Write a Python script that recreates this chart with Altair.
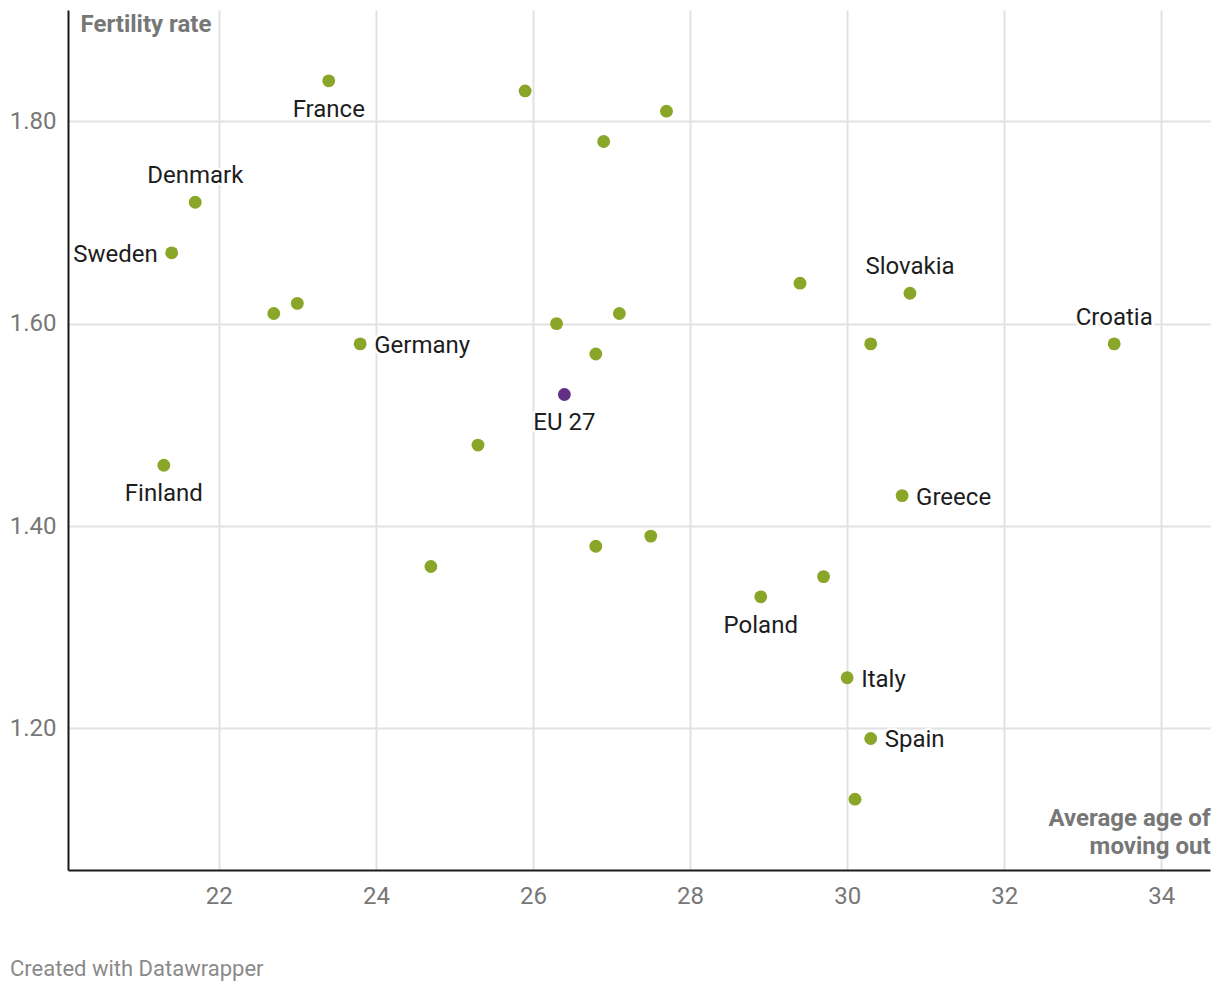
import altair as alt
import pandas as pd

# Data
countries = ["France", "C2", "C3", "C4", "Denmark", "Sweden", "C7", "C8", "Germany",
             "C10", "C11", "C12", "EU 27", "C14", "Finland", "C16", "Slovakia", "C18",
             "Croatia", "Greece", "C21", "C22", "C23", "C24", "Poland", "Italy", "Spain", "C28"]
age_moving_out = [23.4, 25.9, 27.7, 26.9, 21.7, 21.4, 22.7, 23.0, 23.8,
                  26.3, 27.1, 26.8, 26.4, 25.3, 21.3, 29.4, 30.8, 30.3,
                  33.4, 30.7, 24.7, 26.8, 27.5, 29.7, 28.9, 30.0, 30.3, 30.1]
fertility_rate = [1.84, 1.83, 1.81, 1.78, 1.72, 1.67, 1.61, 1.62, 1.58,
                  1.60, 1.61, 1.57, 1.53, 1.48, 1.46, 1.64, 1.63, 1.58,
                  1.58, 1.43, 1.36, 1.38, 1.39, 1.35, 1.33, 1.25, 1.19, 1.13]
group = ["EU" if c == "EU 27" else "Country" for c in countries]
shown_labels = ["France", "Denmark", "Sweden", "Germany", "EU 27", "Finland", "Slovakia",
                "Croatia", "Greece", "Poland", "Italy", "Spain"]

x_ticks = [22, 24, 26, 28, 30, 32, 34]
y_ticks = [1.2, 1.4, 1.6, 1.8]

df = pd.DataFrame({"country": countries, "age": age_moving_out,
                   "fert": fertility_rate, "group": group})
df["label"] = [c if c in shown_labels else "" for c in countries]

FONT = "Roboto"
FS = 24
W, H = 1142, 860

xscale = alt.Scale(domain=[20.08, 34.62], nice=False, zero=False)
yscale = alt.Scale(domain=[1.06, 1.91], nice=False, zero=False)

xaxis = alt.Axis(values=x_ticks, format="d", grid=True, gridColor="#e2e2e2", gridWidth=2,
                 domainColor="#1a1a1a", domainWidth=2, ticks=False,
                 labelFont=FONT, labelFontSize=FS, labelColor="#777777", labelPadding=14,
                 title=["Average age of", "moving out"], titleFont=FONT, titleFontSize=FS,
                 titleFontWeight="bold", titleColor="#777777", titleAlign="right",
                 titleAnchor="end", titleX=W, titleY=-45, titleBaseline="alphabetic",
                 titleLineHeight=28)
yaxis = alt.Axis(values=y_ticks, format=".2f", grid=True, gridColor="#e2e2e2", gridWidth=2,
                 domainColor="#1a1a1a", domainWidth=2, ticks=False,
                 labelFont=FONT, labelFontSize=FS, labelColor="#777777", labelPadding=12,
                 title="Fertility rate", titleFont=FONT, titleFontSize=FS,
                 titleFontWeight="bold", titleColor="#777777", titleAngle=0,
                 titleAlign="left", titleX=12, titleY=21, titleBaseline="alphabetic")

base = alt.Chart(df)

points = base.mark_circle(size=165, opacity=1).encode(
    x=alt.X("age:Q", scale=xscale, axis=xaxis),
    y=alt.Y("fert:Q", scale=yscale, axis=yaxis),
    color=alt.Color("group:N", scale=alt.Scale(domain=["Country", "EU"],
                                               range=["#8aa629", "#622f85"]), legend=None),
)

placement = {
    "below": (["France", "EU 27", "Finland", "Poland"], dict(align="center", dx=0, dy=29)),
    "above": (["Denmark", "Slovakia", "Croatia"], dict(align="center", dx=0, dy=-26)),
    "left": (["Sweden"], dict(align="right", dx=-14, dy=2)),
    "right": (["Germany", "Greece", "Italy", "Spain"], dict(align="left", dx=14, dy=2)),
}

label_layers = []
for key, (names, opts) in placement.items():
    sub = base.transform_filter(alt.FieldOneOfPredicate(field="label", oneOf=names))
    halo = sub.mark_text(font=FONT, fontSize=FS, baseline="middle", stroke="white",
                         strokeWidth=5, fill="white", strokeJoin="round", **opts).encode(
        x="age:Q", y="fert:Q", text="label:N")
    txt = sub.mark_text(font=FONT, fontSize=FS, baseline="middle", color="#1d1d1d",
                        **opts).encode(x="age:Q", y="fert:Q", text="label:N")
    label_layers += [halo, txt]

footer = alt.Chart(pd.DataFrame({"t": ["Created with Datawrapper"]})).mark_text(
    font=FONT, fontSize=22, color="#8a8a8a", align="left", baseline="alphabetic"
).encode(x=alt.value(-58), y=alt.value(966), text="t:N")

chart = alt.layer(points, *label_layers, footer).properties(
    width=W, height=H,
    autosize=alt.AutoSizeParams(type="none"),
    padding={"left": 60, "top": 2, "right": 2, "bottom": 128},
).configure(background="white").configure_view(stroke=None)

chart.save("out.html", embed_options={"renderer": "svg", "actions": False})
